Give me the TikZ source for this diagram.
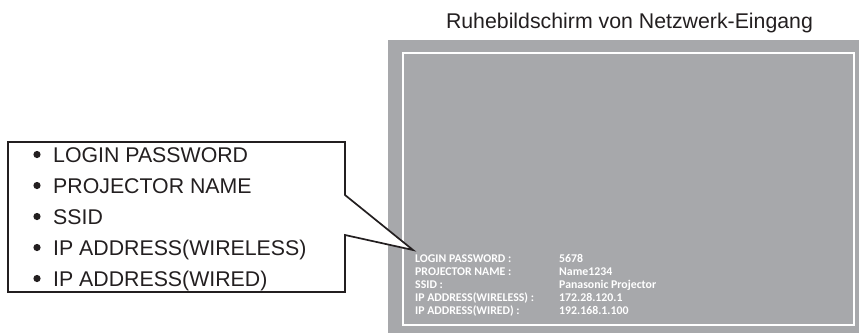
\documentclass[tikz,border=0pt]{standalone}
\usepackage{fontspec}
\setmainfont{Liberation Sans}
\newfontfamily\osdfont{Carlito}
\usetikzlibrary{positioning,calc}

\definecolor{screengray}{HTML}{A7A8AB}
\definecolor{inkdark}{HTML}{231F20}

\begin{document}
\begin{tikzpicture}[x=1pt,y=-1pt,
  listitem/.style={anchor=base west,inner sep=0pt,font=\fontsize{21.3}{25}\selectfont,text=inkdark},
  osdtext/.style={anchor=base west,inner sep=0pt,font=\osdfont\bfseries\fontsize{11.8}{14}\selectfont,text=white}]
  \useasboundingbox (0,0) rectangle (859,333);
  % screen
  \fill[screengray] (388,40) rectangle (859,333);
  \draw[white,line width=2pt] (403,53) rectangle (854,325);
  \node[anchor=base,inner sep=0pt,font=\fontsize{21.3}{25}\selectfont,text=inkdark] (title) at (629.5,28) {Ruhebildschirm von Netzwerk-Eingang};
  % on-screen info
  \foreach \lbl/\val [count=\i] in {LOGIN PASSWORD :/5678, PROJECTOR NAME :/Name1234, SSID :/Panasonic Projector, IP ADDRESS(WIRELESS) :/172.28.120.1, IP ADDRESS(WIRED) :/192.168.1.100} {
    \node[osdtext] (key\i) at (415,250+12.8*\i) {\lbl};
    \node[osdtext] (val\i) at (559,250+12.8*\i) {\val};
  }
  % callout
  \coordinate (tip) at (413,250);
  \draw[inkdark,line width=1.7pt,fill=white,line join=miter]
    (8,142) -- (345,142) -- (345,195) -- (tip) -- (345,235) -- (345,292) -- (8,292) -- cycle;
  \foreach \txt [count=\i] in {LOGIN PASSWORD, PROJECTOR NAME, SSID, IP ADDRESS(WIRELESS), IP ADDRESS(WIRED)} {
    \node[listitem] (item\i) at (53,131+31*\i) {\txt};
    \fill[inkdark] ($(item\i.base west)+(-16,-7.5)$) circle (3.6pt);
  }
\end{tikzpicture}
\end{document}
